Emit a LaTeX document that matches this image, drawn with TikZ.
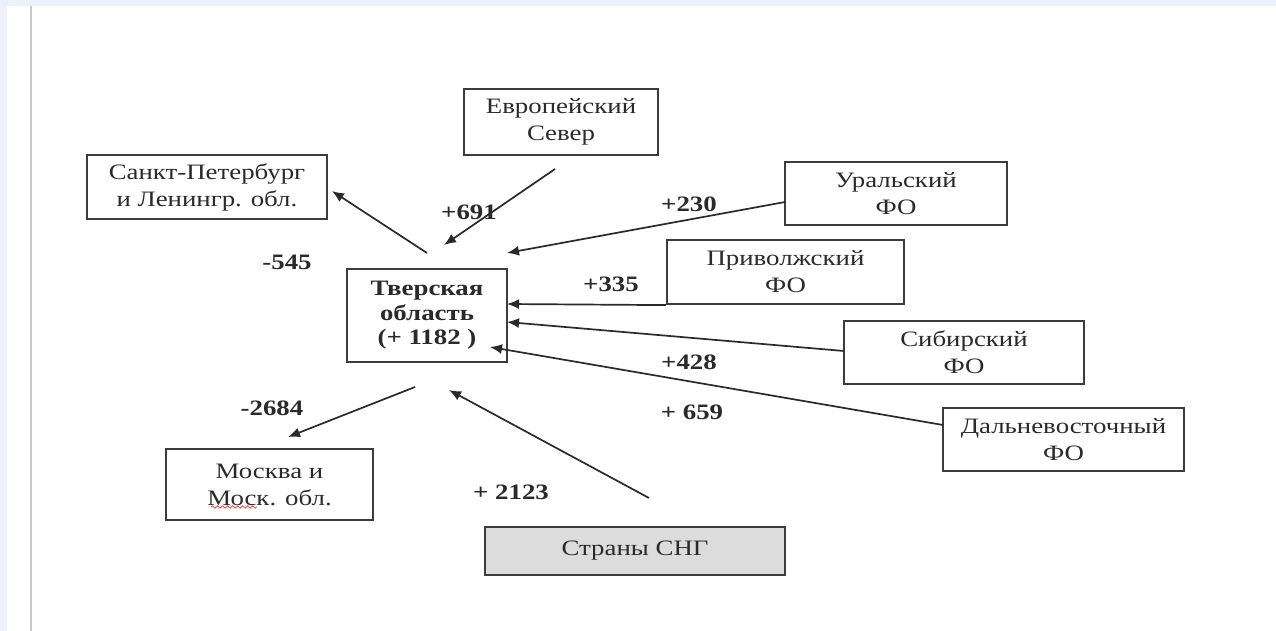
\documentclass[tikz,border=0pt]{standalone}
\usepackage{fontspec}
\setmainfont[FakeStretch=1.22]{Liberation Serif}
\usetikzlibrary{arrows.meta,decorations.pathmorphing}
\definecolor{bandblue}{HTML}{EEF0FD}
\definecolor{sidegray}{HTML}{C8C8C8}
\definecolor{boxline}{HTML}{3C3C3C}
\definecolor{sngfill}{HTML}{DCDCDC}
\definecolor{inkc}{HTML}{2A2A2A}
\begin{document}
\begin{tikzpicture}[x=0.5pt,y=-0.5pt,
  box/.style={draw=boxline,line width=1.1pt,align=center,inner sep=0pt,
    font=\fontsize{11}{13.5}\selectfont,text=inkc},
  flow/.style={draw=inkc,line width=0.85pt,-{Latex[length=6pt,width=5pt]}},
  num/.style={font=\fontsize{11}{13}\selectfont\bfseries,text=inkc,inner sep=0pt}]
\useasboundingbox (0,0) rectangle (1276,631);
\fill[white] (0,0) rectangle (1276,631);
\fill[bandblue] (0,0) rectangle (1276,6);
\fill[bandblue] (0,0) rectangle (7,631);
\fill[sidegray] (30,6) rectangle (32,631);

% boxes
\node[box,minimum width=97pt,minimum height=33pt] (ev) at (561,122) {Европейский\\Север};
\node[box,minimum width=120pt,minimum height=32pt] (spb) at (207,187) {Санкт-Петербург\\и Ленингр. обл.};
\node[box,minimum width=80pt,minimum height=46.5pt,font=\fontsize{11}{12.2}\selectfont\bfseries] (tv) at (427,315.5) {Тверская\\область\\(+ 1182 )};
\node[box,minimum width=111pt,minimum height=31.5pt] (ural) at (896,193.5) {Уральский\\ФО};
\node[box,minimum width=118.5pt,minimum height=32pt] (priv) at (785.5,272) {Приволжский\\ФО};
\node[box,minimum width=120pt,minimum height=31.5pt] (sib) at (964,352.5) {Сибирский\\ФО};
\node[box,minimum width=120.5pt,minimum height=31.5pt] (dv) at (1063.5,439.5) {Дальневосточный\\ФО};
\node[box,minimum width=103.5pt,minimum height=35.5pt] (msk) at (269.5,484.5) {Москва и\\Моск. обл.};
\node[box,fill=sngfill,minimum width=150pt,minimum height=24pt] (sng) at (635,551) {Страны СНГ};

% spell-check squiggle
\draw[red!75,line width=0.4pt,decorate,decoration={snake,amplitude=0.6pt,segment length=2.5pt}] (211,507) -- (257,507);

% free ends of connectors
\coordinate (tvSpb) at (427,253);
\coordinate (hSpb) at (332,191);
\coordinate (tEv) at (555,169);
\coordinate (hEv) at (444,245);
\coordinate (tUral) at (785,202);
\coordinate (hUral) at (507,253);
\coordinate (hPriv) at (507,304);
\coordinate (tSib) at (844,351);
\coordinate (hSib) at (507,322);
\coordinate (tDv) at (943,425);
\coordinate (hDv) at (490,347);
\coordinate (tvMsk) at (415,387);
\coordinate (hMsk) at (288,437);
\coordinate (tSng) at (649,498);
\coordinate (hSng) at (449,390);

\draw[flow] (tvSpb) -- (hSpb);
\draw[flow] (tEv) -- (hEv);
\draw[flow] (tUral) -- (hUral);
\draw[flow] (priv.south west) -- (hPriv);
\draw[flow] (tSib) -- (hSib);
\draw[flow] (tDv) -- (hDv);
\draw[flow] (tvMsk) -- (hMsk);
\draw[flow] (tSng) -- (hSng);

% labels
\node[num] (l691) at (469,212) {+691};
\node[num] (l545) at (287,262) {-545};
\node[num] (l230) at (689,204) {+230};
\node[num] (l335) at (611,284) {+335};
\node[num] (l428) at (689,362) {+428};
\node[num] (l659) at (692,412) {+ 659};
\node[num] (l2684) at (272,408) {-2684};
\node[num] (l2123) at (511,492) {+ 2123};
\end{tikzpicture}
\end{document}
